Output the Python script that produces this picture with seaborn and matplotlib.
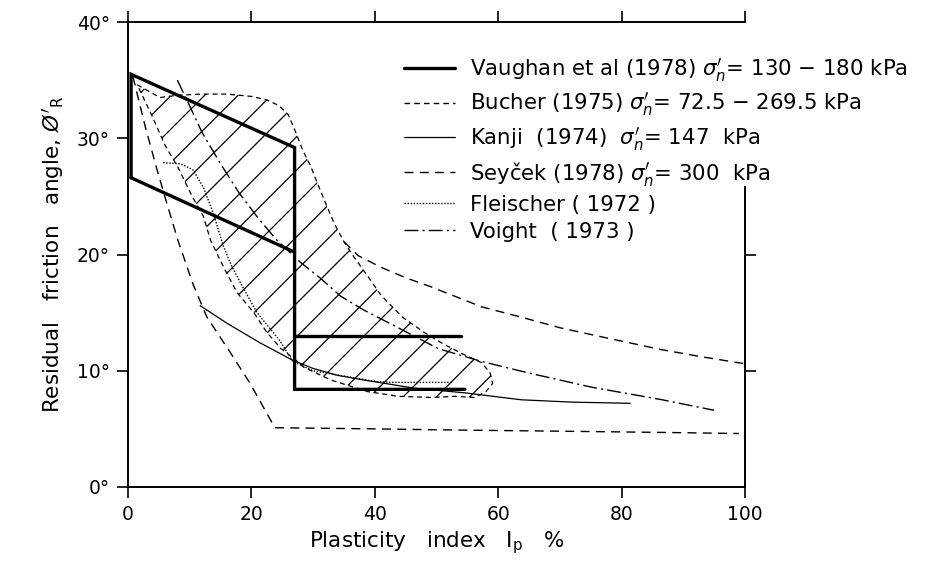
import matplotlib
matplotlib.use("Agg")
import matplotlib.pyplot as plt
import seaborn as sns
from matplotlib.lines import Line2D

# ---------------- data ----------------
x_ticks = [0, 20, 40, 60, 80, 100]
y_ticks = [0, 10, 20, 30, 40]
y_tick_labels = ["0°", "10°", "20°", "30°", "40°"]

# Vaughan et al (1978) – thick outline
vaughan_outline_x = [0.5, 0.5, 27.0, 27.0, 54.6]
vaughan_outline_y = [26.6, 35.5, 29.2, 8.4, 8.4]
vaughan_lower_x = [0.5, 27.0]
vaughan_lower_y = [26.6, 20.2]
vaughan_mid_x = [27.0, 54.0]
vaughan_mid_y = [13.0, 13.0]

# Bucher (1975) – hatched band (closed outline)
bucher_x = [1.5, 3.5, 5.2, 8, 12, 16, 20, 22.5, 24.5, 26, 27.2, 28.3, 29.6, 30.8, 31.8, 33.4, 35.0,
            36.6, 38.9, 41, 44.5, 48, 50.8, 54, 57.3, 58.7, 59.1, 58, 56.2,
            53, 49.2, 43.8, 38.9, 32.9, 28.5, 27, 24.8, 22.5, 20.4, 17.7, 15.5, 13.4, 12.2, 10.4, 8.1, 6, 4, 1.5]
bucher_y = [34.6, 34.0, 33.5, 33.7, 33.8, 33.8, 33.6, 33.3, 32.8, 32.0, 30.5, 29.0, 27.6, 26.0, 24.7, 22.7, 21.1,
            19.8, 18.1, 16.5, 14.6, 13.3, 12.4, 11.5, 10.7, 9.8, 8.9, 8.2, 7.7,
            7.8, 7.7, 7.8, 8.2, 9.2, 10.3, 11.0, 11.9, 13.3, 15.0, 16.7, 18.9, 21.2, 23.3, 25.0, 27.5, 29.4, 31.8, 34.6]

# Kanji (1974)
kanji_x = [11.7, 16, 21.4, 26.7, 30, 34, 38.3, 46.4, 54.6, 63.8, 72, 81.4]
kanji_y = [15.6, 14.1, 12.4, 10.9, 10.2, 9.6, 9.2, 8.5, 8.1, 7.5, 7.3, 7.2]

# Seyček (1978) – lower and upper bounds
seycek_low_x = [0.8, 2.8, 4.7, 6.3, 8.1, 10.5, 12.8, 16.3, 19.8, 23.8, 40, 53, 70, 86, 99]
seycek_low_y = [35.3, 31.0, 27.3, 24.4, 21.2, 17.5, 14.6, 11.8, 8.9, 5.1, 5.0, 4.9, 4.8, 4.7, 4.6]
seycek_up_x = [35.0, 37.3, 41, 45, 49.2, 53, 57.3, 63.8, 70, 76.9, 86.6, 93, 100]
seycek_up_y = [21.1, 19.9, 18.9, 18.0, 17.2, 16.4, 15.5, 14.6, 13.7, 12.9, 11.8, 11.2, 10.6]

# Fleischer (1972)
fleischer_x = [5.7, 8.5, 10.5, 12.2, 13.8, 15.4, 16.8, 18.6, 20.9, 24.6, 26.7, 30, 35.5, 39.7, 42.5, 52.5]
fleischer_y = [27.9, 27.8, 27.3, 25.8, 23.6, 20.8, 19.0, 17.2, 15.0, 12.6, 10.8, 10.0, 9.5, 9.1, 9.0, 9.0]

# Voight (1973)
voight_x = [8.0, 9.8, 12, 15, 18, 21, 24, 26, 28, 31.1, 34.5, 38.3, 42.7, 50.3, 57.3, 65, 75, 86.6, 95]
voight_y = [35.0, 33.0, 30.5, 27.8, 25.3, 23.2, 21.3, 20.3, 19.3, 18.0, 16.4, 15.2, 14.0, 11.9, 10.8, 9.8, 8.6, 7.5, 6.6]

legend_labels = [
    r"Vaughan et al (1978) $\sigma_n'$= 130 − 180 kPa",
    r"Bucher (1975) $\sigma_n'$= 72.5 − 269.5 kPa",
    r"Kanji  (1974)  $\sigma_n'$= 147  kPa",
    r"Seyček (1978) $\sigma_n'$= 300  kPa",
    "Fleischer ( 1972 )",
    "Voight  ( 1973 )",
]

# ---------------- style ----------------
sns.set_theme(style="ticks")
K = "black"
plt.rcParams["font.family"] = ["DejaVu Sans"]
plt.rcParams["mathtext.fontset"] = "dejavusans"
plt.rcParams["hatch.linewidth"] = 0.9
plt.rcParams["hatch.color"] = K
plt.rcParams["text.color"] = K
plt.rcParams["axes.labelcolor"] = K
plt.rcParams["xtick.color"] = K
plt.rcParams["ytick.color"] = K

fig = plt.figure(figsize=(9.3, 5.69), dpi=100)
ax = fig.add_axes([128 / 930, 1 - 487 / 569, (745 - 128) / 930, (487 - 22) / 569])

DASH = (0, (6.5, 4.5))
BAND_DASH = (0, (4, 3))
DASHDOT = (0, (10, 3, 1.5, 3))
DOT = (0, (1, 1.2))

# Bucher hatched band
ax.fill(bucher_x, bucher_y, facecolor="none", edgecolor=K, hatch="/", lw=0.9, ls=BAND_DASH)

# Vaughan
for xs, ys in [(vaughan_outline_x, vaughan_outline_y), (vaughan_lower_x, vaughan_lower_y),
               (vaughan_mid_x, vaughan_mid_y)]:
    sns.lineplot(x=xs, y=ys, sort=False, estimator=None, color=K, lw=2.4, ax=ax,
                 solid_joinstyle="miter")

# Kanji
sns.lineplot(x=kanji_x, y=kanji_y, sort=False, estimator=None, color=K, lw=0.9, ax=ax)
# Seyček
sns.lineplot(x=seycek_low_x, y=seycek_low_y, sort=False, estimator=None, color=K, lw=1.0, ls=DASH, ax=ax)
sns.lineplot(x=seycek_up_x, y=seycek_up_y, sort=False, estimator=None, color=K, lw=1.0, ls=DASH, ax=ax)
# Fleischer
sns.lineplot(x=fleischer_x, y=fleischer_y, sort=False, estimator=None, color=K, lw=1.0, ls=DOT, ax=ax)
# Voight
sns.lineplot(x=voight_x, y=voight_y, sort=False, estimator=None, color=K, lw=1.0, ls=DASHDOT, ax=ax)

# ---------------- axes ----------------
ax.set_xlim(0, 100)
ax.set_ylim(0, 40)
ax.set_xticks(x_ticks)
ax.set_yticks(y_ticks)
ax.set_yticklabels(y_tick_labels)
ax.tick_params(axis="both", direction="out", length=8, width=1.2, colors=K, labelsize=13.5, pad=5)
ax.tick_params(axis="x", top=True)
ax.tick_params(axis="y", right=True)
for t, v in zip(ax.yaxis.get_major_ticks(), y_ticks):
    t.tick2line.set_visible(v in (10, 20))
for s in ["left", "bottom", "top", "right"]:
    ax.spines[s].set_visible(True)
    ax.spines[s].set_linewidth(1.4)
    ax.spines[s].set_color(K)
ax.spines["right"].set_bounds(0, 25.8)

ax.set_xlabel(r"Plasticity   index   $\mathrm{I_p}$   %", fontsize=15.5, labelpad=4)
ax.set_ylabel(r"Residual   friction   angle, $Ø'_{\mathrm{R}}$", fontsize=15.5, labelpad=8)

handles = [
    Line2D([], [], color=K, lw=2.4),
    Line2D([], [], color=K, lw=1.0, ls=BAND_DASH),
    Line2D([], [], color=K, lw=0.9),
    Line2D([], [], color=K, lw=1.0, ls=DASH),
    Line2D([], [], color=K, lw=1.0, ls=DOT),
    Line2D([], [], color=K, lw=1.0, ls=DASHDOT),
]
fig.legend(handles, legend_labels, loc="upper left", bbox_to_anchor=(404 / 930, 1 - 56 / 569),
           frameon=False, fontsize=15.3, handlelength=2.4, handletextpad=0.7,
           labelspacing=0.33, borderpad=0, borderaxespad=0)

fig.savefig("out.png", dpi=100, facecolor="white")
